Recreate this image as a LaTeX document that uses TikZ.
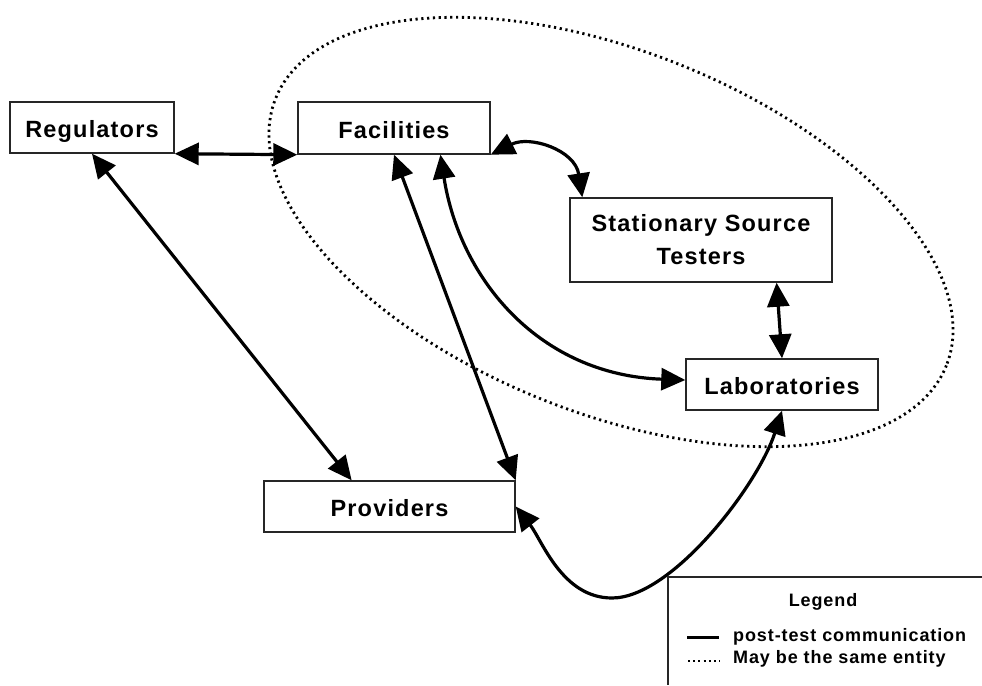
\documentclass[tikz,border=0pt]{standalone}
\usepackage{fontspec}
\setmainfont{Liberation Sans}[LetterSpace=5]
\usetikzlibrary{arrows.meta,calc}
\begin{document}
\begin{tikzpicture}[x=1pt,y=-1pt,
  box/.style={draw=black!85, fill=white, line width=1.4pt, inner sep=0pt,
    font=\fontsize{23.5}{28}\selectfont\bfseries, text height=20pt, text depth=0pt},
  conn/.style={line width=3.2pt, {Triangle[length=24pt,width=22pt]}-{Triangle[length=24pt,width=22pt]}},
  dots/.style={line width=2.8pt, dash pattern=on 2.2pt off 3.6pt},
  legtext/.style={font=\fontsize{18}{22}\selectfont\bfseries, inner sep=0pt},
]
\useasboundingbox (0,0) rectangle (982,685);
% entity ellipse
\draw[dots, rotate around={-21.7:(611,232)}] (611,232) ellipse [x radius=361, y radius=181];
% boxes
\node[box, minimum width=164pt, minimum height=51pt] (reg) at (92,127.5) {Regulators};
\node[box, minimum width=192pt, minimum height=52pt] (fac) at (394,128) {Facilities};
\node[box, minimum width=262pt, minimum height=84pt, text height=, text depth=, align=center,
  font=\fontsize{23.5}{33}\selectfont\bfseries] (sst) at (701,240) {Stationary Source\\Testers};
\node[box, minimum width=192pt, minimum height=51pt] (lab) at (782,384.5) {Laboratories};
\node[box, minimum width=251pt, minimum height=51pt] (prov) at (389.5,506.5) {Providers};
% connectors
\draw[conn] (reg.south east) -- (fac.south west);
\draw[conn] (reg.south) -- ($(prov.north west)!0.35!(prov.north east)$);
\draw[conn] (fac.south) -- (prov.north east);
\draw[conn] ($(fac.south west)!0.74!(fac.south east)$) .. controls (460,280) and (540,375) .. ([yshift=4.5pt]lab.west);
\draw[conn] (fac.south east) .. controls (530,135) and (575,150) .. ($(sst.north west)+(13,0)$);
\draw[conn] ($(sst.south west)!0.787!(sst.south east)$) -- (lab.north);
\coordinate (dip) at (612,598);
\draw[conn] (prov.east) .. controls (542,540) and (562,598) .. (dip) .. controls (672,598) and (758,485) .. (lab.south);
% legend
\draw[black!85, line width=1.4pt] (982,577) -- (668,577) -- (668,685);
\node[legtext] (legtitle) at (823,602) {Legend};
\coordinate (solA) at (687,637);
\coordinate (solB) at (719,637);
\draw[line width=3pt] (solA) -- (solB);
\node[legtext, anchor=west] (legsolid) at (733,637) {post-test communication};
\coordinate (dotA) at (688,661);
\coordinate (dotB) at (720,661);
\draw[line width=2.6pt, dash pattern=on 2pt off 3.2pt] (dotA) -- (dotB);
\node[legtext, anchor=west] (legdot) at (733,659) {May be the same entity};
\end{tikzpicture}
\end{document}
